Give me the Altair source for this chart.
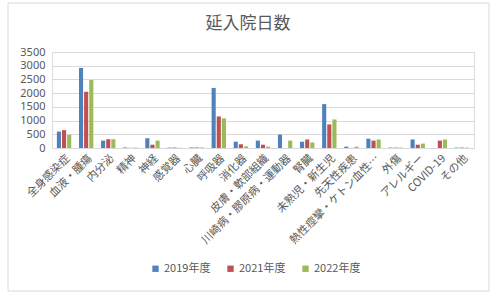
import altair as alt
import pandas as pd

categories = ["全身感染症", "血液・腫瘍", "内分泌", "精神", "神経", "感覚器", "心臓", "呼吸器", "消化器",
              "皮膚・軟部組織", "川崎病・膠原病・運動器", "腎臓", "未熟児・新生児", "先天性疾患",
              "熱性痙攣・ケトン血性…", "外傷", "アレルギー", "COVID-19", "その他"]
series = ["2019年度", "2021年度", "2022年度"]
v2019 = [600, 2920, 270, 20, 360, 15, 20, 2190, 230, 270, 490, 230, 1600, 50, 340, 15, 310, 0, 15]
v2021 = [650, 2050, 320, 5, 120, 15, 20, 1150, 135, 120, 0, 310, 860, 5, 270, 15, 120, 270, 15]
v2022 = [480, 2480, 320, 15, 270, 10, 20, 1080, 60, 50, 270, 200, 1040, 50, 310, 15, 160, 310, 15]
colors = ["#4F81BD", "#C0504D", "#9BBB59"]

rows = []
for s, vals in zip(series, [v2019, v2021, v2022]):
    for c, v in zip(categories, vals):
        rows.append({"category": c, "series": s, "value": v})
df = pd.DataFrame(rows)

FONT = "Noto Sans CJK JP"
GRAY = "#595959"

bars = alt.Chart(df).mark_bar().encode(
    x=alt.X("category:N", sort=categories,
            scale=alt.Scale(paddingInner=0.35, paddingOuter=0.22),
            axis=alt.Axis(title=None, labelAngle=-45, labelFontSize=11, labelColor=GRAY,
                          labelFont=FONT, ticks=False, domainColor="#D9D9D9",
                          labelPadding=4, labelLimit=300)),
    xOffset=alt.XOffset("series:N", sort=series, scale=alt.Scale(paddingInner=0.2)),
    y=alt.Y("value:Q", scale=alt.Scale(domain=[0, 3500]),
            axis=alt.Axis(title=None, values=[0, 500, 1000, 1500, 2000, 2500, 3000, 3500],
                          format="d", labelFontSize=11, labelColor=GRAY, labelFont="Noto Sans",
                          domain=False, ticks=False, gridColor="#D9D9D9", labelPadding=7)),
    color=alt.Color("series:N", sort=series,
                    scale=alt.Scale(domain=series, range=colors),
                    legend=alt.Legend(title=None, orient="none", direction="horizontal",
                                      legendX=98, legendY=211, symbolType="square",
                                      symbolSize=40, symbolStrokeWidth=0,
                                      labelFontSize=11, labelColor=GRAY, labelFont=FONT,
                                      columnPadding=14, symbolOffset=0, labelOffset=3)),
)

frame = alt.Chart(alt.Data(values=[{"frame": 1}])).mark_rect(
    fill=None, stroke="#D9D9D9", strokeWidth=1, clip=False
).encode(
    x=alt.value(-44), x2=alt.value(437), y=alt.value(-49), y2=alt.value(239)
)

chart = alt.layer(frame, bars).properties(
    width=422, height=96,
    title=alt.TitleParams("延入院日数", fontSize=17, font=FONT, color=GRAY, fontWeight="normal",
                          offset=-30, dx=-15),
    autosize=alt.AutoSizeParams(type="none"),
    padding={"left": 52, "top": 52, "right": 24, "bottom": 156},
).configure_view(stroke=None).configure(background="white")

chart.save("out.html", embed_options={"renderer": "svg", "actions": False})
